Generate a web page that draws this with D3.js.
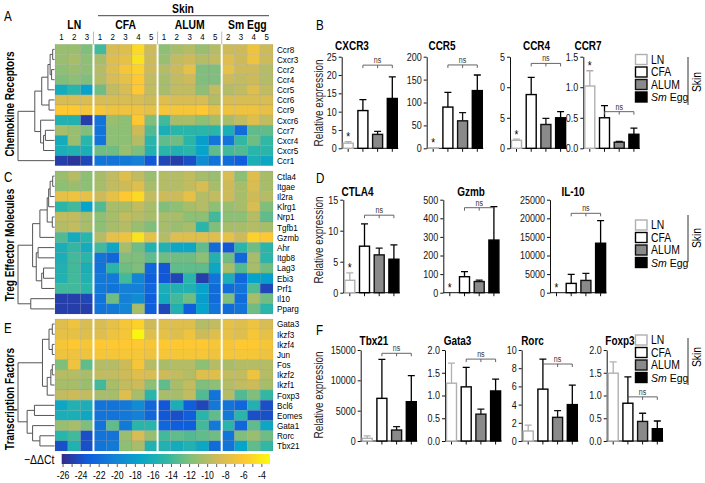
<!DOCTYPE html>
<html><head><meta charset="utf-8">
<script src="https://cdn.jsdelivr.net/npm/d3@7"></script>
<style>
body{margin:0;background:#fff;}
svg{display:block;font-family:"Liberation Sans",Arial,Helvetica,sans-serif;}
</style></head><body>
<svg id="fig" width="705" height="483"></svg>
<script>
// ================= DATA =================
const sampleGroups = ["LN","CFA","ALUM","Sm Egg"];
const sampleLabels = ["1","2","3","1","2","3","4","5","1","2","3","4","5","2","3","4","5"];
const sampleGroupOf = [0,0,0,1,1,1,1,1,2,2,2,2,2,3,3,3,3];

const chemoGenes = ["Ccr8","Cxcr3","Ccr2","Ccr4","Ccr5","Ccr6","Ccr9","Cxcr6","Ccr7","Cxcr4","Cxcr5","Ccr1"];
const chemoValues = [
 [-11,-11,-12,-14,-8.5,-8,-5,-9,-11.5,-10.5,-10,-11,-10,-9,-9,-7,-9],
 [-11,-10.5,-11.5,-10.5,-8,-7.5,-4.5,-9,-11,-9.5,-9,-10,-9.5,-8,-9,-7,-9],
 [-11.5,-11,-11.5,-10,-8,-6.5,-5.5,-9,-10,-9,-7.5,-12,-12,-7.5,-9,-9,-10],
 [-12,-11.5,-12,-10,-8.5,-7.5,-6,-9.5,-10.5,-9.5,-9,-12,-12,-9,-9.5,-9,-10],
 [-16.5,-15,-17.5,-12.5,-9.5,-8.5,-6,-9.5,-10.5,-9.5,-9.5,-11.5,-9.5,-10,-9.5,-8,-9.5],
 [-8.5,-8.5,-8.5,-8.5,-8.5,-8.5,-8.5,-9,-8,-8.5,-8.5,-8.5,-10,-8.5,-8.5,-8.5,-8.5],
 [-6,-6,-6.5,-6.5,-7,-7,-7,-7.5,-6.5,-6.5,-6.5,-6,-7.5,-7,-7,-7,-7.5],
 [-15.5,-15.5,-25,-21.5,-11,-11.5,-6,-12,-14,-10.5,-10.5,-11.5,-10.5,-10.5,-9.5,-8,-9.5],
 [-10.5,-11,-12,-21.5,-11.5,-11.5,-9,-13.5,-16,-15,-15,-15,-15,-16,-22,-13,-13],
 [-16.5,-11,-15,-21.5,-11.5,-11.5,-10,-15,-13,-12.5,-15,-18,-21.5,-21.5,-14.5,-12.5,-14.5],
 [-16,-15.5,-16,-12.5,-12.5,-11,-12,-15.5,-15,-15.5,-15,-17.5,-13,-14,-13.5,-15,-15],
 [-25,-25.5,-24.5,-21.5,-21.5,-21,-20.5,-23.5,-24.5,-25,-24,-19.5,-21.5,-22,-23,-16,-17]
];
const chemoTree = [1.0,[0.54,[0.35,[0.18,[0.12,[0.05,0,1],[0.08,2,3]],4],[0.15,5,6]],[0.38,7,[0.3,[0.25,8,9],10]]],11];

const tregGenes = ["Ctla4","Itgae","Il2ra","Klrg1","Nrp1","Tgfb1","Gzmb","Ahr","Itgb8","Lag3","Ebi3","Prf1","Il10","Pparg"];
const tregValues = [
 [-11,-10,-11.5,-10.5,-9.5,-8,-9.5,-11,-10,-10,-9.5,-10.5,-11,-8.5,-11.5,-8,-10.5],
 [-11.5,-11,-11.5,-10.5,-9.5,-9,-8,-10.5,-10,-10,-9.5,-8.5,-10.5,-9,-10.5,-8.5,-10.5],
 [-7.5,-7,-7.5,-9,-7.5,-6,-5,-9.5,-9,-9,-7.5,-10,-9.5,-9,-10.5,-9,-10],
 [-15,-14,-17.5,-13.5,-10.5,-10.5,-9.5,-10.5,-12,-11.5,-10.5,-10,-11.5,-11,-10.5,-8.5,-12],
 [-9.5,-9.5,-10.5,-11.5,-10.5,-9.5,-10,-10.5,-10.5,-10.5,-11.5,-11.5,-14,-11.5,-11.5,-10,-13],
 [-10,-9.5,-10.5,-11.5,-10.5,-10,-11,-12,-10.5,-11,-10.5,-15,-12,-10.5,-10.5,-10,-10.5],
 [-13.5,-16.5,-15,-10,-7.5,-7,-4.5,-7.5,-10,-8,-8,-8,-8,-7.5,-9,-5.5,-6],
 [-16,-14.5,-16.5,-14,-17,-10.5,-12.5,-15.5,-15.5,-17,-17,-13,-22,-23.5,-15,-12.5,-15],
 [-16,-14,-15,-21.5,-22.5,-12,-12,-13,-12.5,-12.5,-12.5,-11.5,-15.5,-12.5,-22.5,-10.5,-15],
 [-15.5,-14,-16,-21.5,-15,-12.5,-12,-22.5,-23.5,-13,-13,-13,-17,-10.5,-13.5,-10.5,-12.5],
 [-15.5,-14,-15.5,-21,-21,-14,-20,-23,-23.5,-24.5,-15,-25,-21.5,-16,-22.5,-17.5,-18],
 [-14,-14,-15,-21,-21.5,-20.5,-20.5,-22.5,-16,-15.5,-15.5,-17.5,-22,-22,-21.5,-13.5,-24.5],
 [-25,-25,-24.5,-21.5,-12.5,-20.5,-19.5,-23,-16.5,-14,-12.5,-18,-22,-12,-22,-10.5,-12.5],
 [-25,-25,-25,-21.5,-21,-20,-10.5,-23,-24.5,-15.5,-23,-17.5,-21.5,-22,-21.5,-12.5,-15]
];
const tregTree = [1.0,[0.6,[0.4,[0.2,[0.16,[0.12,[0.05,0,1],2],3],[0.06,4,5]],6],[0.5,[0.45,7,8],[0.35,[0.3,9,10],11]]],[0.65,12,13]];

const tfGenes = ["Gata3","Ikzf3","Ikzf4","Jun","Fos","Ikzf2","Ikzf1","Foxp3","Bcl6","Eomes","Gata1","Rorc","Tbx21"];
const tfValues = [
 [-8,-7,-8.5,-8.5,-7.5,-6.5,-5.5,-9,-8,-8,-8,-10,-9.5,-7.5,-8,-7,-8.5],
 [-7.5,-7.5,-8,-8,-7,-6.5,-3.5,-8,-7.5,-8,-7,-9,-8,-7.5,-8,-6.5,-7.5],
 [-6.5,-6,-6.5,-6,-6,-6,-6,-6.5,-6,-6,-6,-6,-6.5,-6.5,-6,-6,-6.5],
 [-7,-7,-7,-6.5,-6.5,-6.5,-6.5,-7,-6.5,-6.5,-6.5,-6.5,-7,-6.5,-6.5,-6.5,-7],
 [-12,-7,-13,-10,-10,-9,-6.5,-10,-10.5,-10,-10,-11.5,-10,-10.5,-10,-10,-10],
 [-10,-10,-10.5,-9.5,-9.5,-9,-8,-8.5,-9,-9.5,-10,-8,-8,-9.5,-9.5,-7,-10],
 [-10.5,-10.5,-11,-14,-10.5,-9.5,-9,-11.5,-13,-10.5,-9.5,-12,-11.5,-10,-9.5,-9,-10.5],
 [-9.5,-9,-9.5,-10.5,-10.5,-8,-10.5,-15,-10.5,-10.5,-9.5,-13.5,-21.5,-10,-13.5,-12,-14.5],
 [-17,-15.5,-16,-21.5,-21.5,-21,-19.5,-22.5,-23.5,-16,-23,-24.5,-21,-21.5,-22.5,-15.5,-24],
 [-16,-16,-17,-21.5,-21.5,-21,-20.5,-22.5,-23.5,-24,-23,-15,-13,-21,-15,-24,-24],
 [-11,-10.5,-12,-21.5,-13,-21,-15,-15,-22.5,-23,-23,-14,-21,-15,-22.5,-13,-17],
 [-15,-14,-24,-21.5,-21.5,-11,-8.5,-11,-14,-13,-13.5,-13,-12.5,-21.5,-12,-11,-12.5],
 [-24,-15.5,-24,-21.5,-21,-11.5,-10.5,-15.5,-15.5,-16.5,-15.5,-17,-22,-21.5,-17.5,-13,-14.5]
];
const tfTree = [1.0,[0.33,[0.15,[0.06,0,1],[0.06,2,3]],[0.2,[0.1,[0.06,4,5],6],7]],[0.75,[0.55,8,9],[0.6,10,[0.4,11,12]]]];

const colorbarTicks = [-26,-24,-22,-20,-18,-16,-14,-12,-10,-8,-6,-4];
const colorbarTickLabels = ["-26","-24","-22","-20","-18","-16","-14","-12","-10","-8","-6","-4"];

// bar chart data (mean and SEM): LN, CFA, ALUM, Sm Egg
const barGroups = ["LN","CFA","ALUM","Sm Egg"];
const cxcr3Mean = [1.4,10.3,3.8,13.6], cxcr3Sem = [0.4,3.0,0.8,5.9];
const cxcr3Ticks = [0,5,10,15,20,25], cxcr3TickLabels = ["0","5","10","15","20","25"];
const ccr5Mean = [0.8,90,60,126], ccr5Sem = [0,32,18,34];
const ccr5Ticks = [0,50,100,150,200], ccr5TickLabels = ["0","50","100","150","200"];
const ccr4Mean = [1.3,8.8,3.9,5.0], ccr4Sem = [0.2,2.8,1.0,1.0];
const ccr4Ticks = [0,5,10,15], ccr4TickLabels = ["0","5","0","5"];
const ccr7Mean = [1.02,0.5,0.1,0.23], ccr7Sem = [0.25,0.2,0.015,0.1];
const ccr7Ticks = [0,0.5,1,1.5], ccr7TickLabels = ["0.0","0.5","1.0","1.5"];

const ctla4Mean = [2.0,7.5,6.1,5.4], ctla4Sem = [1.2,3.6,1.1,2.3];
const ctla4Ticks = [0,5,10,15], ctla4TickLabels = ["0","5","10","15"];
const gzmbMean = [0,86,60,283], gzmbSem = [0,27,8,180];
const gzmbTicks = [0,100,200,300,400,500], gzmbTickLabels = ["0","100","200","300","400","500"];
const il10Mean = [0,2500,3300,13300], il10Sem = [0,2450,1900,6100];
const il10Ticks = [0,5000,10000,15000,20000,25000], il10TickLabels = ["0","5000","10000","15000","20000","25000"];

const tbx21Mean = [440,7030,1810,6480], tbx21Sem = [400,6430,560,4300];
const tbx21Ticks = [0,5000,10000,15000], tbx21TickLabels = ["0","5000","10000","15000"];
const gata3Mean = [1.27,1.19,0.59,1.10], gata3Sem = [0.44,0.43,0.11,0.26];
const gata3Ticks = [0,0.5,1,1.5,2], gata3TickLabels = ["0.0","0.5","1.0","1.5","2.0"];
const rorcMean = [1.1,5.7,2.6,4.0], rorcSem = [0.65,3.3,0.73,2.15];
const rorcTicks = [0,2,4,6,8,10], rorcTickLabels = ["0","2","4","6","8","10"];
const foxp3Mean = [1.49,0.83,0.43,0.27], foxp3Sem = [0.25,0.58,0.18,0.17];
const foxp3Ticks = [0,0.5,1,1.5,2], foxp3TickLabels = ["0.0","0.5","1.0","1.5","2.0"];

// ================= DRAWING =================
const CONDENSE = 0.83;
function condense(sel) {
  sel.each(function() {
    const L = this.getComputedTextLength();
    if (L > 0) d3.select(this).attr("textLength", (L * CONDENSE).toFixed(2)).attr("lengthAdjust", "spacingAndGlyphs");
  });
}
const svg = d3.select("#fig");
const lo = -26.15, hi = -3.1;
const parula = ["#352a87","#0f5cdd","#1481d6","#06a4ca","#2eb7a4","#87bf77","#d1bb59","#fec832","#f9fb0e"];
const color = d3.scaleLinear()
  .domain(parula.map((_, i) => lo + (hi - lo) * i / (parula.length - 1)))
  .range(parula).interpolate(d3.interpolateRgb).clamp(true);

const hmX = d3.scaleBand().domain(d3.range(sampleLabels.length)).range([55, 273]);
const cx = j => hmX(j) + hmX.bandwidth() / 2;

// Header
const head = svg.append("g");
head.append("text").attr("x", 183).attr("y", 13).attr("text-anchor","middle")
  .attr("font-weight","bold").attr("font-size",12.5).text("Skin");
head.append("line").attr("x1", 98).attr("x2", 269).attr("y1", 15.7).attr("y2", 15.7)
  .attr("stroke","#444").attr("stroke-width",1);
sampleGroups.forEach((gname, gi) => {
  const cols = d3.range(sampleLabels.length).filter(j => sampleGroupOf[j] === gi);
  const mid = (hmX(cols[0]) + hmX(cols[cols.length-1]) + hmX.bandwidth()) / 2;
  head.append("text").attr("x", mid).attr("y", 28.5).attr("text-anchor","middle")
    .attr("font-weight","bold").attr("font-size",12.5).text(gname);
});
head.selectAll("text.num").data(sampleLabels).join("text").attr("class","num")
  .attr("x", (d, j) => cx(j)).attr("y", 40).attr("text-anchor","middle")
  .attr("font-size", 9.5).text(d => d);
const sepCols = d3.range(1, sampleLabels.length).filter(j => sampleGroupOf[j] !== sampleGroupOf[j-1]);
head.selectAll("line.sep").data(sepCols).join("line").attr("class","sep")
  .attr("x1", j => hmX(j)).attr("x2", j => hmX(j)).attr("y1", 31.5).attr("y2", 44)
  .attr("stroke","#bbb").attr("stroke-width",1);

const blocks = [
  {genes: chemoGenes, values: chemoValues, tree: chemoTree, top: 44.3, bottom: 165.7,
   label: "Chemokine Receptors", labelY: 104, letter: "A", letterY: 20.5},
  {genes: tregGenes, values: tregValues, tree: tregTree, top: 171, bottom: 314,
   label: "Treg Effector Molecules", labelY: 245, letter: "C", letterY: 181.5},
  {genes: tfGenes, values: tfValues, tree: tfTree, top: 319, bottom: 451,
   label: "Transcription Factors", labelY: 399, letter: "E", letterY: 333}
];

const treeX = d3.scaleLinear().domain([0, 1]).range([54.5, 18]);

blocks.forEach(b => {
  const y = d3.scaleBand().domain(d3.range(b.genes.length)).range([b.top, b.bottom]);
  const cy = i => y(i) + y.bandwidth() / 2;
  const g = svg.append("g");
  const cells = [];
  b.values.forEach((row, i) => row.forEach((v, j) => cells.push({i, j, v})));
  g.selectAll("rect").data(cells).join("rect")
    .attr("x", d => hmX(d.j)).attr("y", d => y(d.i))
    .attr("width", hmX.bandwidth()).attr("height", y.bandwidth())
    .attr("fill", d => color(d.v))
    .attr("stroke", "rgba(100,100,100,0.22)").attr("stroke-width", 0.5);
  g.selectAll("line.wsep").data(sepCols).join("line").attr("class","wsep")
    .attr("x1", j => hmX(j)).attr("x2", j => hmX(j)).attr("y1", b.top).attr("y2", b.bottom)
    .attr("stroke", "#fff").attr("stroke-width", 2);
  g.selectAll("text.gene").data(b.genes).join("text").attr("class","gene")
    .attr("x", 277).attr("y", (d, i) => cy(i) + 3.4).attr("font-size", 9.8).text(d => d);
  // dendrogram
  const paths = [];
  function rec(node) {
    if (typeof node === "number") return {x: treeX(0), y: cy(node)};
    const [h, a, c] = node;
    const A = rec(a), C = rec(c);
    const x = treeX(h);
    paths.push(`M${A.x},${A.y}H${x}V${C.y}H${C.x}`);
    return {x, y: (A.y + C.y) / 2};
  }
  rec(b.tree);
  g.append("path").attr("d", paths.join("")).attr("fill","none")
    .attr("stroke","#555").attr("stroke-width",1);
  g.append("text").attr("transform", `translate(14,${b.labelY}) rotate(-90)`)
    .attr("text-anchor","middle").attr("font-weight","bold").attr("font-size",12).text(b.label);
  g.append("text").attr("x", 4).attr("y", b.letterY).attr("font-size", 14).text(b.letter);
});

// colorbar
const cbScale = d3.scaleLinear().domain([lo, hi]).range([61.7, 270]);
const defs = svg.append("defs");
const grad = defs.append("linearGradient").attr("id","cbg");
grad.selectAll("stop").data(d3.range(0, 1.0001, 0.02)).join("stop")
  .attr("offset", t => t).attr("stop-color", t => color(lo + (hi - lo) * t));
svg.append("rect").attr("x", 61.7).attr("y", 454).attr("width", 270 - 61.7).attr("height", 10)
  .attr("fill","url(#cbg)");
const cbAxis = svg.append("g").attr("transform","translate(0,464)");
cbAxis.selectAll("line").data(d3.range(-26, -3, 1)).join("line")
  .attr("x1", d => cbScale(d)).attr("x2", d => cbScale(d)).attr("y1", 0).attr("y2", 3)
  .attr("stroke","#333").attr("stroke-width",0.8);
cbAxis.selectAll("text").data(colorbarTicks).join("text")
  .attr("x", d => cbScale(d)).attr("y", 15).attr("text-anchor","middle")
  .attr("font-size", 10.5).text((d, i) => colorbarTickLabels[i]);
svg.append("text").attr("x", 24).attr("y", 463.5).attr("font-size", 12.5).text("\u2212\u0394\u0394Ct");

// ---------- bar charts ----------
const rows = {
  B: {y0: 148.3, yTop: 56.7, titleY: 49.5, ylabY: 103, letterY: 30},
  D: {y0: 292.7, yTop: 199.7, titleY: 195.5, ylabY: 240, letterY: 183},
  F: {y0: 441, yTop: 350, titleY: 345, ylabY: 395, letterY: 335}
};
const charts = [
  {row:"B", title:"CXCR3", axisX:341.7, titleX:352, mean:cxcr3Mean, sem:cxcr3Sem, ticks:cxcr3Ticks, labels:cxcr3TickLabels, star:true, bracket:22.7},
  {row:"B", title:"CCR5", axisX:426.7, titleX:442, mean:ccr5Mean, sem:ccr5Sem, ticks:ccr5Ticks, labels:ccr5TickLabels, star:true, bracket:182},
  {row:"B", title:"CCR4", axisX:510, titleX:536.5, mean:ccr4Mean, sem:ccr4Sem, ticks:ccr4Ticks, labels:ccr4TickLabels, star:true, bracket:13.9},
  {row:"B", title:"CCR7", axisX:583.3, titleX:588, mean:ccr7Mean, sem:ccr7Sem, ticks:ccr7Ticks, labels:ccr7TickLabels, star:true, bracket:0.6},
  {row:"D", title:"CTLA4", axisX:343.3, titleX:357.5, mean:ctla4Mean, sem:ctla4Sem, ticks:ctla4Ticks, labels:ctla4TickLabels, star:true, bracket:12.5},
  {row:"D", title:"Gzmb", axisX:443.3, titleX:471, mean:gzmbMean, sem:gzmbSem, ticks:gzmbTicks, labels:gzmbTickLabels, star:true, bracket:457},
  {row:"D", title:"IL-10", axisX:550, titleX:573, mean:il10Mean, sem:il10Sem, ticks:il10Ticks, labels:il10TickLabels, star:true, bracket:21340},
  {row:"F", title:"Tbx21", axisX:360.7, titleX:374, mean:tbx21Mean, sem:tbx21Sem, ticks:tbx21Ticks, labels:tbx21TickLabels, star:false, bracket:14456},
  {row:"F", title:"Gata3", axisX:445, titleX:457.5, mean:gata3Mean, sem:gata3Sem, ticks:gata3Ticks, labels:gata3TickLabels, star:false, bracket:1.8},
  {row:"F", title:"Rorc", axisX:521.7, titleX:532.5, mean:rorcMean, sem:rorcSem, ticks:rorcTicks, labels:rorcTickLabels, star:false, bracket:8.46},
  {row:"F", title:"Foxp3", axisX:606.7, titleX:620, mean:foxp3Mean, sem:foxp3Sem, ticks:foxp3Ticks, labels:foxp3TickLabels, star:false, bracket:0.97}
];
const barStyle = {
  "LN": {fill:"#fff", stroke:"#b0b0b0"},
  "CFA": {fill:"#fff", stroke:"#000"},
  "ALUM": {fill:"#8a8a8a", stroke:"#111"},
  "Sm Egg": {fill:"#000", stroke:"#000"}
};

charts.forEach(c => {
  const r = rows[c.row];
  const y = d3.scaleLinear().domain([0, c.ticks[c.ticks.length - 1]]).range([r.y0, r.yTop]);
  const x = d3.scalePoint().domain(barGroups).range([c.axisX + 6.5, c.axisX + 6.5 + 3 * 14.7]);
  const g = svg.append("g");
  const ya = g.append("g").attr("transform", `translate(${c.axisX},0)`)
    .call(d3.axisLeft(y).tickValues(c.ticks).tickSize(3).tickSizeOuter(0).tickPadding(2)
      .tickFormat((d, i) => c.labels[i]));
  ya.attr("font-family", null).attr("font-size", 10.8);
  ya.selectAll("text").attr("fill", "#111");
  ya.selectAll("path,line").attr("stroke", "#111").attr("stroke-width", 1);
  // x axis
  g.append("line").attr("x1", c.axisX).attr("x2", x("Sm Egg") + 6).attr("y1", r.y0).attr("y2", r.y0)
    .attr("stroke","#111").attr("stroke-width",1);
  g.selectAll("line.xt").data(barGroups).join("line").attr("class","xt")
    .attr("x1", d => x(d)).attr("x2", d => x(d)).attr("y1", r.y0).attr("y2", r.y0 + 3.5)
    .attr("stroke","#111").attr("stroke-width",1);
  const data = barGroups.map((gname, i) => ({g: gname, m: c.mean[i], s: c.sem[i]}));
  // error bars
  g.selectAll("path.err").data(data.filter(d => d.s > 0)).join("path").attr("class","err")
    .attr("d", d => `M${x(d.g)},${y(d.m)}V${y(d.m + d.s)}M${x(d.g) - 3.5},${y(d.m + d.s)}H${x(d.g) + 3.5}`)
    .attr("fill","none").attr("stroke", d => barStyle[d.g].stroke).attr("stroke-width", 1.3);
  g.selectAll("rect.bar").data(data.filter(d => d.m > 0)).join("rect").attr("class","bar")
    .attr("x", d => x(d.g) - 5).attr("width", 10)
    .attr("y", d => y(d.m)).attr("height", d => r.y0 - y(d.m))
    .attr("fill", d => barStyle[d.g].fill).attr("stroke", d => barStyle[d.g].stroke).attr("stroke-width", 1.4);
  if (c.star) {
    const d0 = data[0];
    g.append("text").attr("x", x("LN")).attr("y", y(d0.m + d0.s) - 0.5).attr("text-anchor","middle")
      .attr("font-size", 12).text("*");
  }
  const by = y(c.bracket);
  g.append("path").attr("d", `M${x("CFA")},${by + 3}V${by}H${x("Sm Egg")}V${by + 3}M${x("ALUM")},${by}V${by + 3}`)
    .attr("fill","none").attr("stroke","#555").attr("stroke-width",0.9);
  g.append("text").attr("x", x("ALUM")).attr("y", by - 2).attr("text-anchor","middle")
    .attr("font-size", 8.5).attr("fill","#333").text("ns");
  g.append("text").attr("x", c.titleX).attr("y", r.titleY).attr("text-anchor","middle")
    .attr("font-weight","bold").attr("font-size", 12).text(c.title);
});

Object.entries(rows).forEach(([letter, r]) => {
  svg.append("text").attr("x", 316).attr("y", r.letterY).attr("font-size", 14).text(letter);
  svg.append("text").attr("transform", `translate(322.5,${r.ylabY}) rotate(-90)`)
    .attr("text-anchor","middle").attr("font-size", 12).attr("fill","#222").text("Relative expression");
});

// condense all text drawn so far (reference uses a condensed Helvetica look)
condense(svg.selectAll("text"));

// legends
const legends = [{y: 59.5, lineTop: 57, lineBot: 105, skinY: 82}, {y: 225, lineTop: 215, lineBot: 262, skinY: 238}, {y: 340, lineTop: 338, lineBot: 385, skinY: 357}];
legends.forEach(L => {
  const g = svg.append("g");
  barGroups.forEach((gname, i) => {
    const yy = L.y + i * 12.5;
    g.append("rect").attr("x", 635.5).attr("y", yy - 5).attr("width", 11.5).attr("height", 10)
      .attr("fill", barStyle[gname].fill).attr("stroke", barStyle[gname].stroke).attr("stroke-width", 1.4);
    if (gname === "Sm Egg") {
      const [italicPart, rest] = gname.split(" ");
      const t = g.append("text").attr("x", 651).attr("y", yy + 4.2).attr("font-size", 10.5);
      t.append("tspan").attr("font-style","italic").text(italicPart);
      t.append("tspan").text(" " + rest);
    } else {
      condense(g.append("text").attr("x", 651).attr("y", yy + 4.2).attr("font-size", 12.5).text(gname));
    }
  });
  g.append("line").attr("x1", 688).attr("x2", 688).attr("y1", L.lineTop).attr("y2", L.lineBot)
    .attr("stroke","#333").attr("stroke-width",1);
  condense(g.append("text").attr("transform", `translate(701,${L.skinY}) rotate(-90)`)
    .attr("text-anchor","middle").attr("font-size", 12.5).text("Skin"));
});
</script>
</body></html>
